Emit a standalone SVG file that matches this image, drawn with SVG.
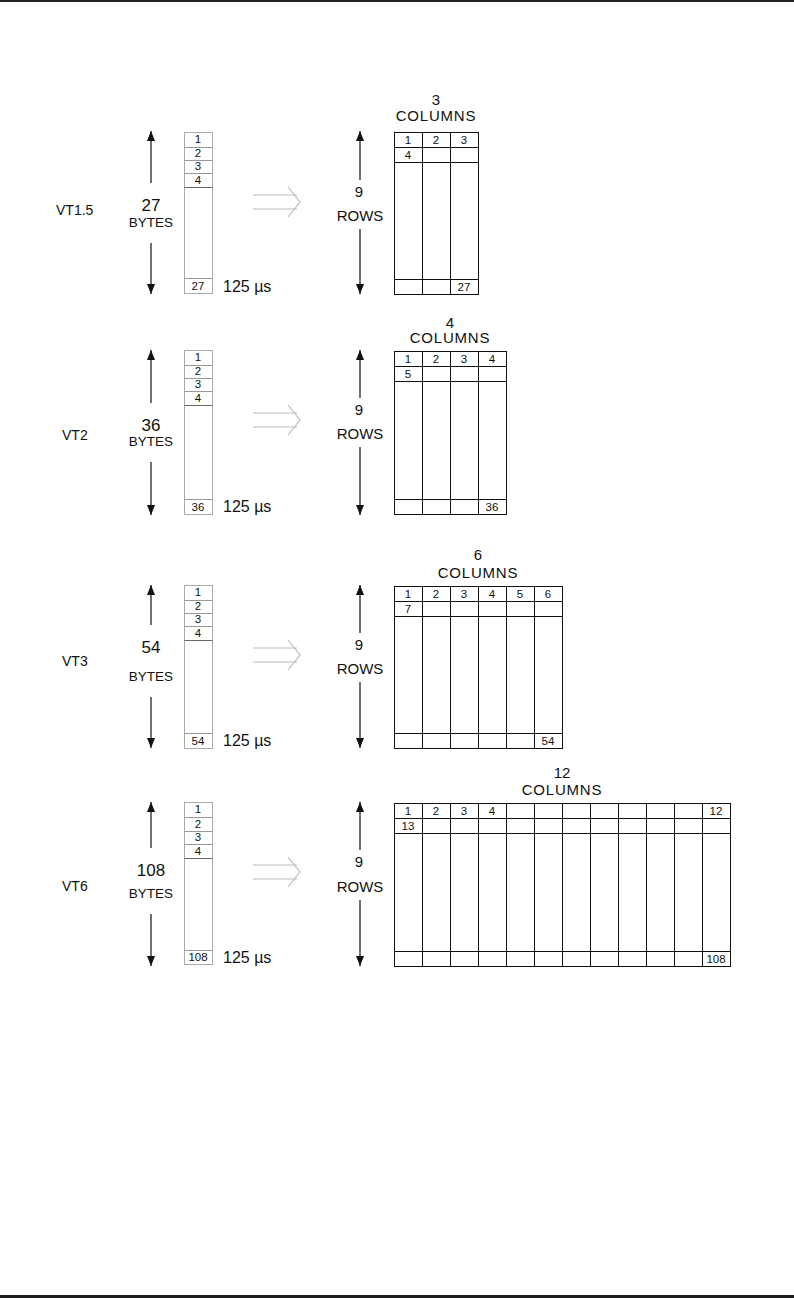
<svg xmlns="http://www.w3.org/2000/svg" width="794" height="1298" viewBox="0 0 794 1298">
<style>
text{font-family:"Liberation Sans",Arial,sans-serif;fill:#111}
.vt{font-size:14px}
.num{font-size:17px;text-anchor:middle}
.by{font-size:13.5px;text-anchor:middle}
.us{font-size:16px}
.cn{font-size:15px;text-anchor:middle}
.col{font-size:15px;text-anchor:middle;letter-spacing:0.8px}
.rw{font-size:15px;text-anchor:middle}
.c{font-size:11.5px;text-anchor:middle}
.bc{fill:#fff;stroke:#aaa;stroke-width:1}
.bl{stroke:#999;stroke-width:1;fill:none}
.bd{stroke:#666;stroke-width:1;fill:none}
.g{fill:none;stroke:#111;stroke-width:1}
.ar{stroke:#111;stroke-width:1.2;fill:none;marker-end:url(#ah)}
.ho{stroke:#bbb;stroke-width:1.2;fill:none}
</style>
<defs>
<marker id="ah" viewBox="0 0 10 8" refX="10" refY="4" markerWidth="10" markerHeight="8" markerUnits="userSpaceOnUse" orient="auto">
<path d="M0,0 L10,4 L0,8 z" fill="#111"/>
</marker>
</defs>
<rect x="0" y="0" width="794" height="2" fill="#231f20"/>
<rect x="0" y="1295" width="794" height="3" fill="#1d1d1b"/>

<g id="connectors">
<line class="ar" x1="151" y1="183" x2="151" y2="131"/>
<line class="ar" x1="151" y1="243" x2="151" y2="294"/>
<line class="ar" x1="151" y1="403" x2="151" y2="350"/>
<line class="ar" x1="151" y1="462" x2="151" y2="515"/>
<line class="ar" x1="151" y1="625" x2="151" y2="585"/>
<line class="ar" x1="151" y1="697" x2="151" y2="748"/>
<line class="ar" x1="151" y1="848" x2="151" y2="802"/>
<line class="ar" x1="151" y1="914" x2="151" y2="966"/>
<line class="ar" x1="360" y1="180" x2="360" y2="131"/>
<line class="ar" x1="360" y1="229" x2="360" y2="294"/>
<line class="ar" x1="360" y1="398" x2="360" y2="350"/>
<line class="ar" x1="360" y1="447" x2="360" y2="515"/>
<line class="ar" x1="360" y1="633" x2="360" y2="585"/>
<line class="ar" x1="360" y1="682" x2="360" y2="748"/>
<line class="ar" x1="360" y1="850" x2="360" y2="802"/>
<line class="ar" x1="360" y1="900" x2="360" y2="966"/>
<path class="ho" d="M253,195 H297 M253,209 H297 M288,187 L300,202 L288,217"/>
<path class="ho" d="M253,413 H297 M253,427 H297 M288,405 L300,420 L288,435"/>
<path class="ho" d="M253,648 H297 M253,662 H297 M288,640 L300,655 L288,670"/>
<path class="ho" d="M253,865 H297 M253,879 H297 M288,857 L300,872 L288,887"/>
</g>

<g id="vt15-left">
<text class="vt" x="56" y="215">VT1.5</text>
<text class="num" x="151" y="211">27</text>
<text class="by" x="151" y="227">BYTES</text>
<rect class="bc" x="184.5" y="132.5" width="28" height="161"/>
<path class="bl" d="M184.5,147.5 H212.5 M184.5,160.5 H212.5 M184.5,173.5 H212.5 M184.5,278.5 H212.5"/>
<path class="bd" d="M184.5,187.5 H212.5"/>
<text class="c" x="198" y="143">1</text>
<text class="c" x="198" y="157">2</text>
<text class="c" x="198" y="170">3</text>
<text class="c" x="198" y="184">4</text>
<text class="c" x="198" y="290">27</text>
<text class="us" x="223" y="292">125 µs</text>
</g>
<g id="vt15-right">
<text class="cn" x="436" y="105">3</text>
<text class="col" x="436" y="121">COLUMNS</text>
<text class="rw" x="359" y="197">9</text>
<text class="rw" x="360" y="221">ROWS</text>
<rect class="g" x="394.5" y="132.5" width="84" height="162"/>
<path class="g" d="M422.5,132.5 V294.5 M450.5,132.5 V294.5 M394.5,147.5 H478.5 M394.5,162.5 H478.5 M394.5,279.5 H478.5"/>
<text class="c" x="408" y="144">1</text>
<text class="c" x="436" y="144">2</text>
<text class="c" x="464" y="144">3</text>
<text class="c" x="408" y="159">4</text>
<text class="c" x="464" y="291">27</text>
</g>

<g id="vt2-left">
<text class="vt" x="62" y="440">VT2</text>
<text class="num" x="151" y="431">36</text>
<text class="by" x="151" y="446">BYTES</text>
<rect class="bc" x="184.5" y="350.5" width="28" height="164"/>
<path class="bl" d="M184.5,365.5 H212.5 M184.5,378.5 H212.5 M184.5,391.5 H212.5 M184.5,499.5 H212.5"/>
<path class="bd" d="M184.5,405.5 H212.5"/>
<text class="c" x="198" y="361">1</text>
<text class="c" x="198" y="375">2</text>
<text class="c" x="198" y="388">3</text>
<text class="c" x="198" y="402">4</text>
<text class="c" x="198" y="511">36</text>
<text class="us" x="223" y="512">125 µs</text>
</g>
<g id="vt2-right">
<text class="cn" x="450" y="328">4</text>
<text class="col" x="450" y="343">COLUMNS</text>
<text class="rw" x="359" y="415">9</text>
<text class="rw" x="360" y="439">ROWS</text>
<rect class="g" x="394.5" y="351.5" width="112" height="163"/>
<path class="g" d="M422.5,351.5 V514.5 M450.5,351.5 V514.5 M478.5,351.5 V514.5 M394.5,366.5 H506.5 M394.5,381.5 H506.5 M394.5,499.5 H506.5"/>
<text class="c" x="408" y="363">1</text>
<text class="c" x="436" y="363">2</text>
<text class="c" x="464" y="363">3</text>
<text class="c" x="492" y="363">4</text>
<text class="c" x="408" y="378">5</text>
<text class="c" x="492" y="511">36</text>
</g>

<g id="vt3-left">
<text class="vt" x="62" y="666">VT3</text>
<text class="num" x="151" y="653">54</text>
<text class="by" x="151" y="681">BYTES</text>
<rect class="bc" x="184.5" y="585.5" width="28" height="163"/>
<path class="bl" d="M184.5,600.5 H212.5 M184.5,613.5 H212.5 M184.5,626.5 H212.5 M184.5,733.5 H212.5"/>
<path class="bd" d="M184.5,640.5 H212.5"/>
<text class="c" x="198" y="596">1</text>
<text class="c" x="198" y="610">2</text>
<text class="c" x="198" y="623">3</text>
<text class="c" x="198" y="637">4</text>
<text class="c" x="198" y="745">54</text>
<text class="us" x="223" y="746">125 µs</text>
</g>
<g id="vt3-right">
<text class="cn" x="478" y="560">6</text>
<text class="col" x="478" y="578">COLUMNS</text>
<text class="rw" x="359" y="650">9</text>
<text class="rw" x="360" y="674">ROWS</text>
<rect class="g" x="394.5" y="586.5" width="168" height="162"/>
<path class="g" d="M422.5,586.5 V748.5 M450.5,586.5 V748.5 M478.5,586.5 V748.5 M506.5,586.5 V748.5 M534.5,586.5 V748.5 M394.5,601.5 H562.5 M394.5,616.5 H562.5 M394.5,733.5 H562.5"/>
<text class="c" x="408" y="598">1</text>
<text class="c" x="436" y="598">2</text>
<text class="c" x="464" y="598">3</text>
<text class="c" x="492" y="598">4</text>
<text class="c" x="520" y="598">5</text>
<text class="c" x="548" y="598">6</text>
<text class="c" x="408" y="613">7</text>
<text class="c" x="548" y="745">54</text>
</g>

<g id="vt6-left">
<text class="vt" x="62" y="891">VT6</text>
<text class="num" x="151" y="876">108</text>
<text class="by" x="151" y="898">BYTES</text>
<rect class="bc" x="184.5" y="802.5" width="28" height="162"/>
<path class="bl" d="M184.5,817.5 H212.5 M184.5,831.5 H212.5 M184.5,844.5 H212.5 M184.5,950.5 H212.5"/>
<path class="bd" d="M184.5,858.5 H212.5"/>
<text class="c" x="198" y="813">1</text>
<text class="c" x="198" y="828">2</text>
<text class="c" x="198" y="841">3</text>
<text class="c" x="198" y="855">4</text>
<text class="c" x="198" y="961">108</text>
<text class="us" x="223" y="963">125 µs</text>
</g>
<g id="vt6-right">
<text class="cn" x="562" y="778">12</text>
<text class="col" x="562" y="795">COLUMNS</text>
<text class="rw" x="359" y="867">9</text>
<text class="rw" x="360" y="892">ROWS</text>
<rect class="g" x="394.5" y="803.5" width="336" height="163"/>
<path class="g" d="M422.5,803.5 V966.5 M450.5,803.5 V966.5 M478.5,803.5 V966.5 M506.5,803.5 V966.5 M534.5,803.5 V966.5 M562.5,803.5 V966.5 M590.5,803.5 V966.5 M618.5,803.5 V966.5 M646.5,803.5 V966.5 M674.5,803.5 V966.5 M702.5,803.5 V966.5 M394.5,818.5 H730.5 M394.5,833.5 H730.5 M394.5,951.5 H730.5"/>
<text class="c" x="408" y="815">1</text>
<text class="c" x="436" y="815">2</text>
<text class="c" x="464" y="815">3</text>
<text class="c" x="492" y="815">4</text>
<text class="c" x="716" y="815">12</text>
<text class="c" x="408" y="830">13</text>
<text class="c" x="716" y="963">108</text>
</g>
</svg>
